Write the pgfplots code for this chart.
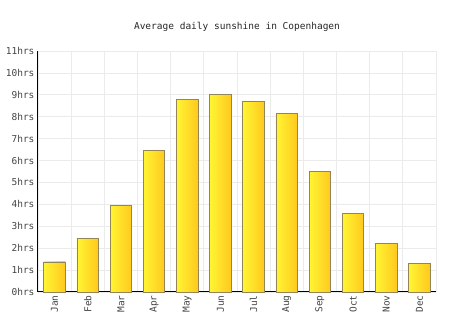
\documentclass[border=0pt]{standalone}
\usepackage{pgfplots}
\pgfplotsset{compat=1.18}
\usepackage{fontspec}
\setmainfont{DejaVu Sans Mono}
\definecolor{barL}{HTML}{FFF533}
\definecolor{barR}{HTML}{FFC81E}
\definecolor{barE}{HTML}{948556}
\definecolor{gridc}{HTML}{EBEBEB}
\definecolor{txt}{HTML}{444444}
\pgfplotsset{sunbar/.style={ybar, bar width=0.65, draw=barE, line width=0.8pt, left color=barL, right color=barR}}
\begin{document}
\begin{tikzpicture}[x=1pt,y=1pt]
\useasboundingbox (0,0) rectangle (474,331);
\node[font=\fontsize{9.5}{11}\selectfont, text=black!85] at (237,304) {Average daily sunshine in Copenhagen};
\begin{axis}[
  at={(38pt,39pt)}, anchor=south west,
  scale only axis, width=398pt, height=241pt,
  xmin=-0.5, xmax=11.5, ymin=0, ymax=11,
  axis lines=left, axis line style={-, black, line width=1pt},
  xtick={0,...,11},
  xticklabels={Jan,Feb,Mar,Apr,May,Jun,Jul,Aug,Sep,Oct,Nov,Dec},
  x tick label style={rotate=90, anchor=east, font=\fontsize{9.5}{11}\selectfont, text=txt},
  ytick={0,...,11},
  yticklabels={0hrs,1hrs,2hrs,3hrs,4hrs,5hrs,6hrs,7hrs,8hrs,9hrs,10hrs,11hrs},
  y tick label style={font=\fontsize{9.5}{11}\selectfont, text=txt},
  minor xtick={-0.5,0.5,...,11.5},
  xminorgrids, ymajorgrids,
  grid style={gridc, line width=0.8pt},
  minor grid style={gridc, line width=0.8pt},
  major tick length=0pt, minor tick length=0pt,
  clip=false,
]
\addplot[sunbar] coordinates {(0,1.37)};
\addplot[sunbar] coordinates {(1,2.43)};
\addplot[sunbar] coordinates {(2,3.96)};
\addplot[sunbar] coordinates {(3,6.48)};
\addplot[sunbar] coordinates {(4,8.8)};
\addplot[sunbar] coordinates {(5,9.0)};
\addplot[sunbar] coordinates {(6,8.68)};
\addplot[sunbar] coordinates {(7,8.13)};
\addplot[sunbar] coordinates {(8,5.5)};
\addplot[sunbar] coordinates {(9,3.6)};
\addplot[sunbar] coordinates {(10,2.22)};
\addplot[sunbar] coordinates {(11,1.31)};
\end{axis}
\end{tikzpicture}
\end{document}
